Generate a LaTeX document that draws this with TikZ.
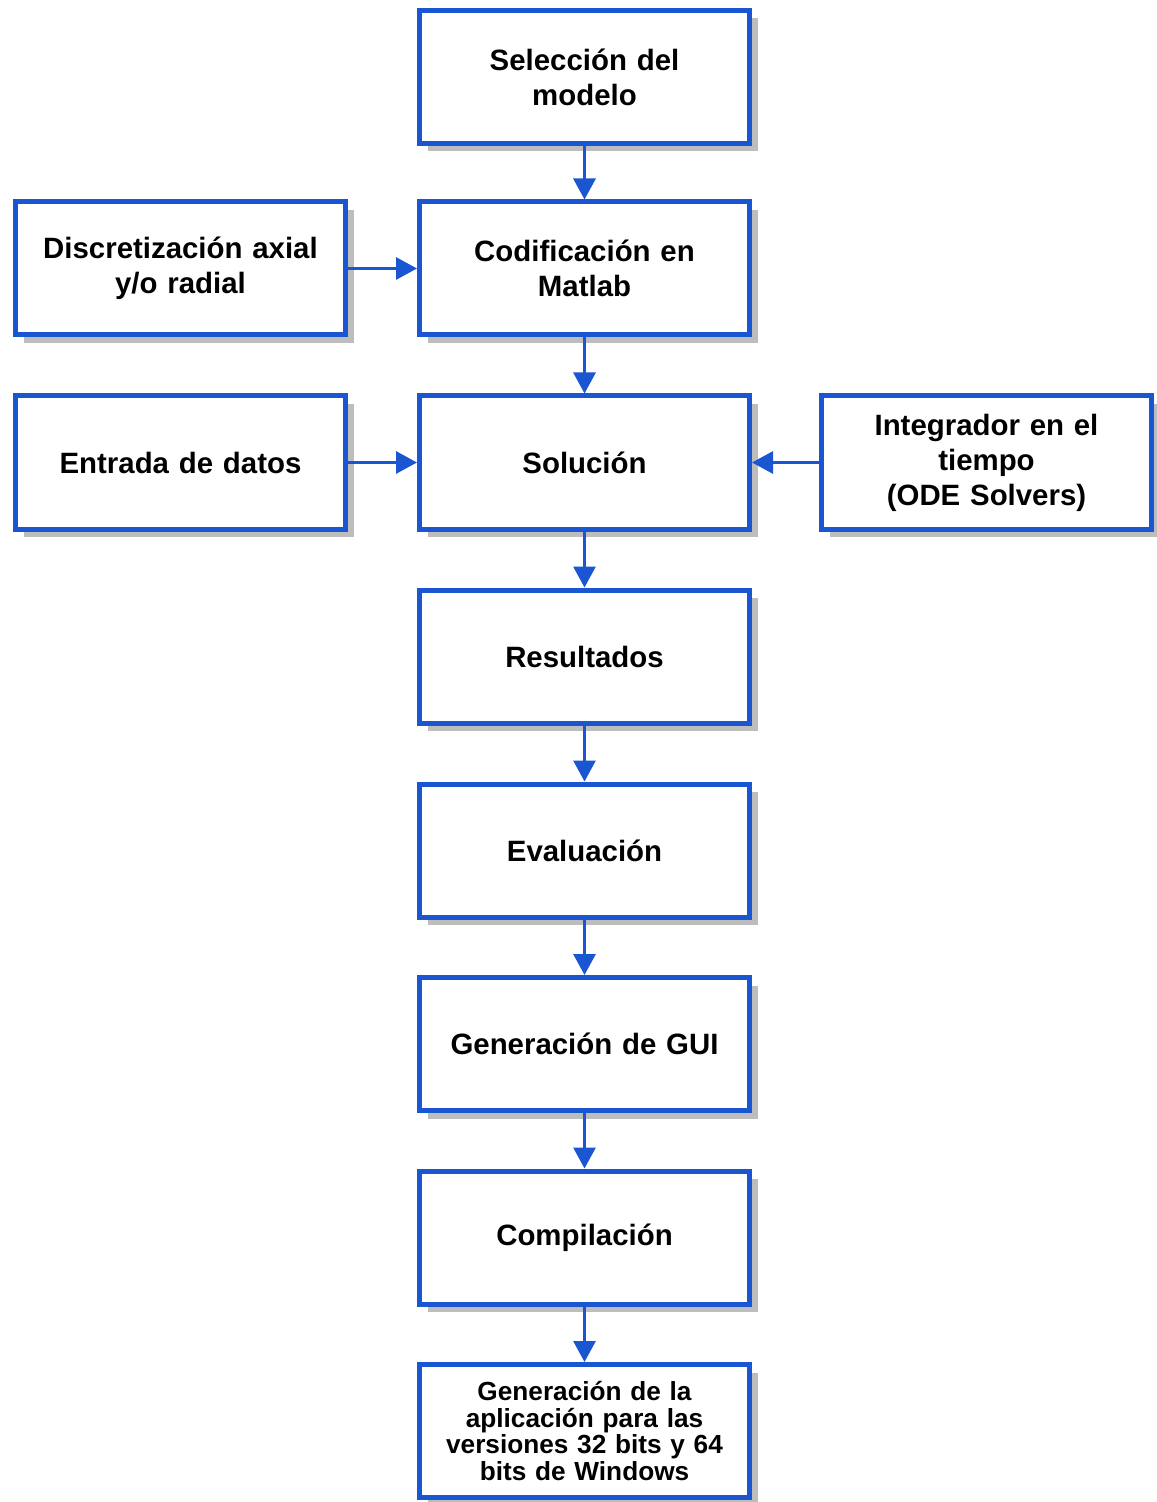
\documentclass[tikz,border=0pt]{standalone}
\usepackage{fontspec}
\setmainfont{Liberation Sans}
\usetikzlibrary{arrows.meta,shadows}
\definecolor{bblue}{HTML}{1A56D1}
\definecolor{shgray}{HTML}{BDBDBD}
\begin{document}
\begin{tikzpicture}[x=0.5pt,y=-0.5pt,
  box/.style={draw=bblue, line width=2.5pt, fill=white, minimum width=165pt, minimum height=66.5pt,
    text width=155pt, align=center, inner sep=0pt,
    font=\fontsize{14.7}{17.5}\selectfont\bfseries,
    drop shadow={shadow xshift=4.25pt, shadow yshift=-4pt, fill=shgray, opacity=1}},
  smalltext/.style={font=\fontsize{13.1}{13.3}\selectfont\bfseries},
  arr/.style={draw=bblue, line width=1.5pt, -{Triangle[length=10.5pt,width=11pt]}}]
\useasboundingbox (0,0) rectangle (1156,1502);
\node[box] (n1) at (584.5,77) {Selección del\\modelo};
\node[box] (n2) at (584.5,268.5) {Codificación en\\Matlab};
\node[box] (n3) at (584.5,462.5) {Solución};
\node[box] (n4) at (584.5,656.5) {Resultados};
\node[box] (n5) at (584.5,850.5) {Evaluación};
\node[box] (n6) at (584.5,1044) {Generación de GUI};
\node[box] (n7) at (584.5,1237.5) {Compilación};
\node[box, smalltext] (n8) at (584.5,1431) {Generación de la\\aplicación para las\\versiones 32 bits y 64\\bits de Windows};
\node[box] (l1) at (180.5,268.5) {Discretización axial\\y/o radial};
\node[box] (l2) at (180.5,462.5) {Entrada de datos};
\node[box] (r1) at (986.5,462.5) {Integrador en el\\tiempo\\(ODE Solvers)};
\draw[arr] (n1.south) -- (n2.north);
\draw[arr] (n2.south) -- (n3.north);
\draw[arr] (n3.south) -- (n4.north);
\draw[arr] (n4.south) -- (n5.north);
\draw[arr] (n5.south) -- (n6.north);
\draw[arr] (n6.south) -- (n7.north);
\draw[arr] (n7.south) -- (n8.north);
\draw[arr] (l1.east) -- (n2.west);
\draw[arr] (l2.east) -- (n3.west);
\draw[arr] (r1.west) -- (n3.east);
\end{tikzpicture}
\end{document}
